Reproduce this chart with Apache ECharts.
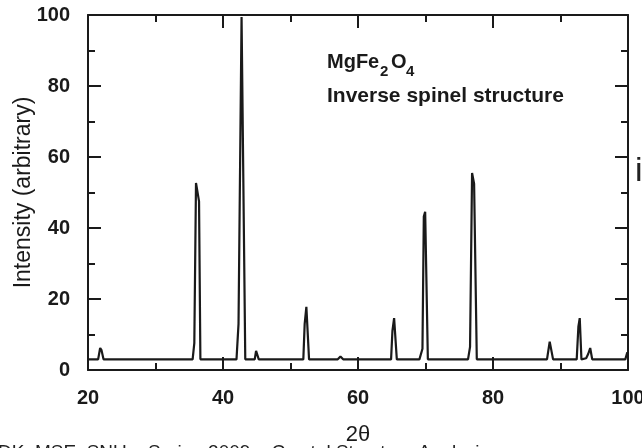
<!DOCTYPE html>
<html>
<head>
<meta charset="utf-8">
<script src="https://cdn.jsdelivr.net/npm/echarts@6/dist/echarts.min.js"></script>
<style>
html,body{margin:0;padding:0;background:#fff;}
#main{width:642px;height:448px;}
</style>
</head>
<body>
<div id="main"></div>
<script>
// 衍射谱数据 [2θ, 强度]
var pattern = [
	[20,3],[21.5,3],[21.8,6.2],[22.0,5.6],[22.3,3],
	[35.5,3],[35.75,7.6],[36.0,52.7],[36.45,47.5],[36.65,3],
	[42.0,3],[42.3,13],[42.75,99.4],[43.3,3],
	[44.7,3],[44.9,5.4],[45.1,5.4],[45.3,3],
	[51.9,3],[52.1,13],[52.35,17.8],[52.75,3],
	[57.0,3],[57.4,3.8],[57.8,3],
	[64.9,3],[65.1,11],[65.35,14.6],[65.75,3],
	[69.1,3],[69.55,6],[69.75,43.2],[69.95,44.6],[70.35,3],
	[76.3,3],[76.6,6.5],[76.9,55.5],[77.2,52.5],[77.6,3],
	[88.0,3],[88.4,8],[88.6,8],[88.9,3],
	[92.4,3],[92.65,12.2],[92.85,14.6],[93.1,3],[93.3,2.8],
	[93.8,3.3],[94.1,4.5],[94.4,6.2],[94.7,3],
	[99.6,3],[99.9,5]
];
var xRange = [20, 100];
var yRange = [0, 100];
var tickStep = 20;

var font = 'Liberation Sans, Arial, sans-serif';
var black = '#1a1a1a';

function makeAxis(pos, range, showLabel){
	return {
		type: 'value',
		position: pos,
		min: range[0],
		max: range[1],
		interval: tickStep,
		nameMoveOverlap: false,
		axisLine: {show: true, onZero: false, lineStyle: {color: black, width: 2}},
		axisTick: {show: true, inside: true, length: 13, lineStyle: {color: black, width: 2}},
		minorTick: {show: true, splitNumber: 2, length: 7, lineStyle: {color: black, width: 2}},
		splitLine: {show: false},
		axisLabel: {
			show: showLabel, margin: 18,
			fontFamily: font, fontWeight: 'bold', fontSize: 20, color: black
		}
	};
}

var xMain = makeAxis('bottom', xRange, true);
xMain.name = '2θ';
xMain.nameLocation = 'middle';
xMain.nameGap = 54;
xMain.nameTextStyle = {fontFamily: font, fontSize: 22, color: black};

var yMain = makeAxis('left', yRange, true);
yMain.name = 'Intensity (arbitrary)';
yMain.nameLocation = 'middle';
yMain.nameGap = 53;
yMain.nameTextStyle = {fontFamily: font, fontSize: 23, color: black};

var myChart = echarts.init(document.getElementById('main'));
var option = {
	animation: false,
	backgroundColor: '#fff',
	grid: {left: 88, right: 14, top: 15, bottom: 78, containLabel: false, outerBoundsMode: 'none'},
	xAxis: [xMain, makeAxis('top', xRange, false)],
	yAxis: [yMain, makeAxis('right', yRange, false)],
	series: [{
		type: 'line',
		xAxisIndex: 0,
		yAxisIndex: 0,
		data: pattern,
		symbol: 'none',
		smooth: false,
		lineStyle: {color: black, width: 2.2}
	}],
	graphic: [
		{type: 'text', left: 327, top: 52, style: {text: 'MgFe', font: 'bold 20px ' + font, fill: black}},
		{type: 'text', left: 380, top: 64, style: {text: '2', font: 'bold 15px ' + font, fill: black}},
		{type: 'text', left: 391, top: 52, style: {text: 'O', font: 'bold 20px ' + font, fill: black}},
		{type: 'text', left: 406, top: 64, style: {text: '4', font: 'bold 15px ' + font, fill: black}},
		{type: 'text', left: 327, top: 86, style: {text: 'Inverse spinel structure', font: 'bold 21px ' + font, fill: black}},
		{type: 'text', left: 635, top: 155, style: {text: 'i', font: '34px ' + font, fill: '#222'}},
		{type: 'text', left: -2, top: 443, style: {text: 'DK, MSE, SNU    Spring 2009    Crystal Structure Analysis', font: '19px ' + font, fill: '#222'}}
	]
};
myChart.setOption(option);
</script>
</body>
</html>
